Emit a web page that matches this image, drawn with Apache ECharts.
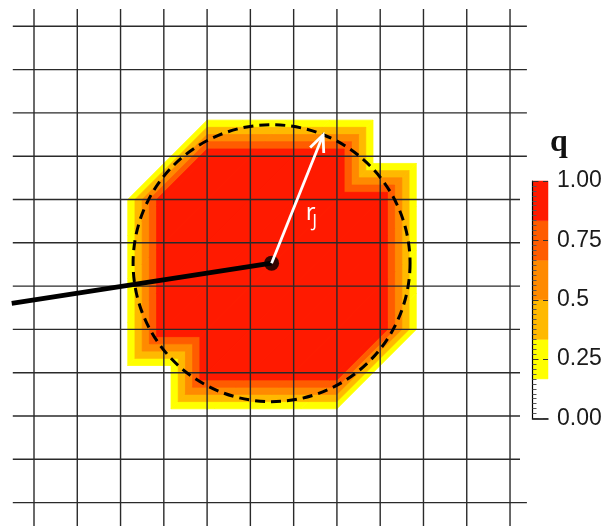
<!DOCTYPE html>
<html>
<head>
<meta charset="utf-8">
<script src="https://cdn.jsdelivr.net/npm/echarts@6/dist/echarts.min.js"></script>
<style>
  html, body { margin: 0; padding: 0; background: #ffffff; }
  #chart { width: 605px; height: 526px; }
</style>
</head>
<body>
<div id="chart"></div>
<script>
// Mesh node indices (columns left to right, rows top to bottom)
const meshCols = [0, 1, 2, 3, 4, 5, 6, 7, 8, 9, 10, 11];
const meshRows = [0, 1, 2, 3, 4, 5, 6, 7, 8, 9, 10, 11];

// Point field q on the mesh nodes, one array per row (row 0 at the top)
const qRow0  = [0, 0, 0, 0, 0, 0, 0, 0, 0, 0, 0, 0];
const qRow1  = [0, 0, 0, 0, 0, 0, 0, 0, 0, 0, 0, 0];
const qRow2  = [0, 0, 0, 0, 0, 0, 0, 0, 0, 0, 0, 0];
const qRow3  = [0, 0, 0, 0, 1, 1, 1, 1, 0, 0, 0, 0];
const qRow4  = [0, 0, 0, 1, 1, 1, 1, 1, 1, 0, 0, 0];
const qRow5  = [0, 0, 0, 1, 1, 1, 1, 1, 1, 0, 0, 0];
const qRow6  = [0, 0, 0, 1, 1, 1, 1, 1, 1, 0, 0, 0];
const qRow7  = [0, 0, 0, 1, 1, 1, 1, 1, 1, 0, 0, 0];
const qRow8  = [0, 0, 0, 0, 1, 1, 1, 1, 0, 0, 0, 0];
const qRow9  = [0, 0, 0, 0, 0, 0, 0, 0, 0, 0, 0, 0];
const qRow10 = [0, 0, 0, 0, 0, 0, 0, 0, 0, 0, 0, 0];
const qRow11 = [0, 0, 0, 0, 0, 0, 0, 0, 0, 0, 0, 0];
const qNodes = [qRow0, qRow1, qRow2, qRow3, qRow4, qRow5, qRow6, qRow7, qRow8, qRow9, qRow10, qRow11];

// Discrete colour levels of q
const levelEdges = [0, 1 / 6, 2 / 6, 3 / 6, 4 / 6, 5 / 6, 1];
const levelColors = ['#ffffff', '#ffff00', '#ffb900', '#ff8a00', '#ff5c00', '#ff1a00'];

// Colour bar ticks
const barTicks = [0, 0.25, 0.5, 0.75, 1];
const barTickLabels = ['0.00', '0.25', '0.5', '0.75', '1.00'];

// Jet: centre, radius r_J, incoming track start and tip of the radius marker
const jetCentre = [5.49, 5.47];
const jetRadius = 3.2;
const trackStart = [-0.515, 6.40];
const radiusTip = [6.68, 2.51];

// Visible window of the mesh (axis units)
const X_MIN = -0.49, X_MAX = 11.39;
const Y_MIN = -0.4, Y_MAX = 11.6;

// Split every mesh quad into two triangles along its anti-diagonal
const triangles = [];
for (let j = 0; j < meshRows.length - 1; j++) {
  for (let i = 0; i < meshCols.length - 1; i++) {
    const p00 = [meshCols[i], meshRows[j], qNodes[j][i]];
    const p10 = [meshCols[i + 1], meshRows[j], qNodes[j][i + 1]];
    const p01 = [meshCols[i], meshRows[j + 1], qNodes[j + 1][i]];
    const p11 = [meshCols[i + 1], meshRows[j + 1], qNodes[j + 1][i + 1]];
    triangles.push([p00, p10, p01], [p10, p11, p01]);
  }
}

// Part of a linearly interpolated polygon where q >= t
function clipAbove(poly, t) {
  const out = [];
  for (let k = 0; k < poly.length; k++) {
    const a = poly[k], b = poly[(k + 1) % poly.length];
    const inA = a[2] >= t, inB = b[2] >= t;
    if (inA) out.push(a);
    if (inA !== inB) {
      const s = (t - a[2]) / (b[2] - a[2]);
      out.push([a[0] + s * (b[0] - a[0]), a[1] + s * (b[1] - a[1]), t]);
    }
  }
  return out;
}

// Mesh line segments [x1, y1, x2, y2]
const meshSegments = [];
meshCols.forEach(c => meshSegments.push([c, Y_MIN, c, Y_MAX]));
meshRows.forEach(r => meshSegments.push([X_MIN, r, X_MAX, r]));

const labelFont = '"Liberation Sans", Arial, sans-serif';

const chart = echarts.init(document.getElementById('chart'), null, { renderer: 'canvas' });

chart.setOption({
  animation: false,
  backgroundColor: '#ffffff',
  title: {
    text: 'q',
    left: 545,
    top: 122,
    textStyle: { fontFamily: '"Liberation Serif", "DejaVu Serif", serif', fontWeight: 'bold', fontSize: 32, color: '#111111' }
  },
  grid: [
    { left: 12.8, top: 9, width: 514.1, height: 519.6, outerBoundsMode: 'none', containLabel: false },
    { left: 532.5, top: 181, width: 15.5, height: 237.5, outerBoundsMode: 'none', containLabel: false }
  ],
  xAxis: [
    { type: 'value', gridIndex: 0, min: X_MIN, max: X_MAX, show: false },
    {
      type: 'value', gridIndex: 1, min: 0, max: 1, z: 8,
      axisLine: { show: true, lineStyle: { color: '#000000', width: 1.5 } },
      axisTick: { show: false }, axisLabel: { show: false }, splitLine: { show: false }
    }
  ],
  yAxis: [
    { type: 'value', gridIndex: 0, min: Y_MIN, max: Y_MAX, inverse: true, show: false },
    {
      type: 'value', gridIndex: 1, min: 0, max: 1, interval: 0.25, position: 'right', z: 8,
      axisLine: { show: true, lineStyle: { color: '#000000', width: 1.2 } },
      axisTick: { show: true, length: 6, lineStyle: { color: '#333333', width: 1 } },
      minorTick: { show: true, splitNumber: 12, length: 4, lineStyle: { color: '#555555', width: 1 } },
      splitLine: { show: false },
      axisLabel: {
        show: true, margin: 9, color: '#1a1a1a', fontSize: 23, fontFamily: labelFont,
        formatter: v => {
          const k = barTicks.findIndex(t => Math.abs(t - v) < 1e-9);
          return k >= 0 ? barTickLabels[k] : '';
        }
      }
    },
    {
      type: 'value', gridIndex: 1, min: 0, max: 1, interval: 0.25, position: 'right', z: 8,
      axisLine: { show: false },
      axisTick: { show: true, inside: true, length: 5, lineStyle: { color: '#333333', width: 1 } },
      axisLabel: { show: false }, splitLine: { show: false }
    }
  ],
  graphic: [
    // plain backing panel behind the colour bar
    { type: 'rect', z: 3, shape: { x: 520, y: 190, width: 85, height: 290 }, style: { fill: '#ffffff' } }
  ],
  series: [
    {
      // banded q field
      type: 'custom', name: 'q', xAxisIndex: 0, yAxisIndex: 0, z: 1, clip: true,
      data: levelEdges.slice(1, -1).map((t, k) => [k + 1, t]),
      encode: { x: 0, y: 1 },
      renderItem(params, api) {
        const k = params.dataIndex + 1;
        const t = levelEdges[k];
        const children = [];
        triangles.forEach(tri => {
          const poly = clipAbove(tri, t);
          if (poly.length >= 3) {
            children.push({
              type: 'polygon',
              shape: { points: poly.map(p => api.coord([p[0], p[1]])) },
              style: { fill: levelColors[k], stroke: levelColors[k], lineWidth: 0.8 }
            });
          }
        });
        return { type: 'group', children };
      }
    },
    {
      // mesh
      type: 'custom', name: 'mesh', xAxisIndex: 0, yAxisIndex: 0, z: 2, clip: false,
      data: meshSegments,
      encode: { x: [0, 2], y: [1, 3] },
      renderItem(params, api) {
        const a = api.coord([api.value(0), api.value(1)]);
        const b = api.coord([api.value(2), api.value(3)]);
        return {
          type: 'line',
          shape: { x1: a[0], y1: a[1], x2: b[0], y2: b[1] },
          style: { stroke: '#2a2a2a', lineWidth: 1.4 }
        };
      }
    },
    {
      // jet radius circle
      type: 'custom', name: 'jet', xAxisIndex: 0, yAxisIndex: 0, z: 4, clip: false,
      data: [[jetCentre[0], jetCentre[1], jetRadius]],
      encode: { x: 0, y: 1 },
      renderItem(params, api) {
        const c = api.coord([api.value(0), api.value(1)]);
        const r = api.size([api.value(2), 0])[0];
        return {
          type: 'circle',
          shape: { cx: c[0], cy: c[1], r },
          style: { fill: null, stroke: '#000000', lineWidth: 3, lineDash: [10, 6] }
        };
      }
    },
    {
      // incoming track
      type: 'line', name: 'track', xAxisIndex: 0, yAxisIndex: 0, z: 5, clip: false,
      data: [trackStart, jetCentre],
      showSymbol: false, symbol: 'none',
      lineStyle: { color: '#000000', width: 4.8, cap: 'butt' }
    },
    {
      type: 'scatter', name: 'centre', xAxisIndex: 0, yAxisIndex: 0, z: 6,
      data: [jetCentre], symbolSize: 15,
      itemStyle: { color: '#000000' }
    },
    {
      // radius marker with label
      type: 'custom', name: 'radius', xAxisIndex: 0, yAxisIndex: 0, z: 7, clip: false,
      data: [[jetCentre[0], jetCentre[1], radiusTip[0], radiusTip[1]]],
      encode: { x: [0, 2], y: [1, 3] },
      renderItem(params, api) {
        const a = api.coord([api.value(0), api.value(1)]);
        const b = api.coord([api.value(2), api.value(3)]);
        const dx = b[0] - a[0], dy = b[1] - a[1];
        const len = Math.hypot(dx, dy), ux = dx / len, uy = dy / len;
        const head = 18, ang = 24 * Math.PI / 180;
        const arm = s => {
          const c = Math.cos(s * ang), sn = Math.sin(s * ang);
          return [b[0] - head * (ux * c - uy * sn), b[1] - head * (ux * sn + uy * c)];
        };
        const mid = [a[0] + dx * 0.52, a[1] + dy * 0.52];
        return {
          type: 'group',
          children: [
            { type: 'line', shape: { x1: a[0], y1: a[1], x2: b[0], y2: b[1] }, style: { stroke: '#ffffff', lineWidth: 2.8 } },
            { type: 'polyline', shape: { points: [arm(1), b, arm(-1)] }, style: { stroke: '#ffffff', lineWidth: 2.8, fill: null } },
            { type: 'text', x: mid[0] + 7.5, y: mid[1] + 17, style: { text: 'r', fill: '#ffffff', fontSize: 24, fontFamily: '"Open Sans", sans-serif', align: 'left', verticalAlign: 'middle' } },
            { type: 'text', x: mid[0] + 14, y: mid[1] + 25.5, style: { text: 'J', fill: '#ffffff', fontSize: 18, fontFamily: '"Open Sans", sans-serif', align: 'left', verticalAlign: 'middle' } }
          ]
        };
      }
    },
    {
      // colour bar
      type: 'custom', name: 'colour bar', xAxisIndex: 1, yAxisIndex: 1, z: 5, clip: false,
      data: levelColors.map((c, k) => [0, levelEdges[k], 1, levelEdges[k + 1]]),
      encode: { x: [0, 2], y: [1, 3] },
      renderItem(params, api) {
        const lo = api.coord([api.value(0), api.value(1)]);
        const hi = api.coord([api.value(2), api.value(3)]);
        const children = [
          {
            type: 'rect',
            shape: { x: lo[0], y: hi[1], width: hi[0] - lo[0], height: lo[1] - hi[1] },
            style: { fill: levelColors[params.dataIndex], stroke: levelColors[params.dataIndex], lineWidth: 0.5 }
          },
          {
            type: 'line',
            shape: { x1: lo[0], y1: lo[1], x2: lo[0], y2: hi[1] },
            style: { stroke: '#808080', lineWidth: 1 }
          }
        ];
        return { type: 'group', children };
      }
    }
  ]
});
</script>
</body>
</html>
